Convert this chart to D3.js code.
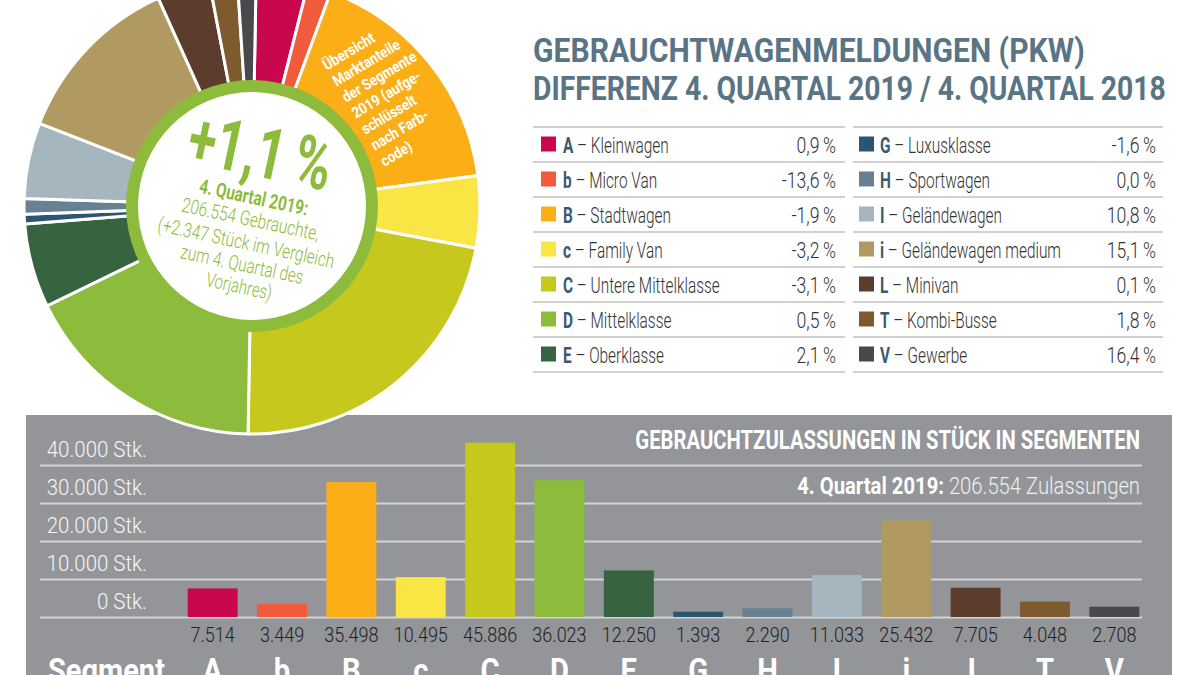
<!DOCTYPE html>
<html><head><meta charset="utf-8">
<script src="https://cdn.jsdelivr.net/npm/d3@7"></script>
<style>
html,body{margin:0;padding:0;background:#fff;}
svg{display:block;}
text{white-space:pre;}
</style></head><body>
<svg id="chart" width="1200" height="675"></svg>
<script>
// ---------- data ----------
const segments = ["A","b","B","c","C","D","E","G","H","I","i","L","T","V"];
const segmentNames = ["Kleinwagen","Micro Van","Stadtwagen","Family Van","Untere Mittelklasse","Mittelklasse","Oberklasse",
  "Luxusklasse","Sportwagen","Geländewagen","Geländewagen medium","Minivan","Kombi-Busse","Gewerbe"];
const units2019 = [7514,3449,35498,10495,45886,36023,12250,1393,2290,11033,25432,7705,4048,2708];
const changePct = [0.9,-13.6,-1.9,-3.2,-3.1,0.5,2.1,-1.6,0.0,10.8,15.1,0.1,1.8,16.4];
const yTickValues = [0,10000,20000,30000,40000];
const totalUnits = 206554;
const totalDiff = 2347;
const totalChangePct = 1.1;
const noteLines = ["Übersicht","Marktanteile","der Segmente","2019 (aufge-","schlüsselt","nach Farb-","code)"];

// ---------- styles ----------
const colors = ["#c8074f","#f15a3b","#fcae17","#f9e645","#c6c81d","#8dbb3b","#376440",
  "#2c5571","#678092","#a6b6be","#b09a62","#5c3c2d","#7d5b2f","#48494b"];
const GREEN = "#8dbb3b", SLATE = "#3b5a70", TITLE = "#597484";
const FONT = "Roboto, 'Liberation Sans', sans-serif";

const de = d3.formatLocale({decimal:",", thousands:".", grouping:[3], currency:["","\u00a0€"], minus:"-"});
const fInt = de.format(",d");
const fPct = de.format(".1f");

const svg = d3.select("#chart");

function addText(parent, x, y, parts, o = {}) {
  const t = parent.append("text")
    .attr("font-family", FONT)
    .attr("font-size", o.size || 20)
    .attr("font-weight", o.weight || 400)
    .attr("fill", o.fill || "#000")
    .attr("text-anchor", o.anchor || "start");
  (Array.isArray(parts) ? parts : [{t: parts}]).forEach(p => {
    const s = t.append("tspan").text(p.t);
    if (p.weight) s.attr("font-weight", p.weight);
    if (p.fill) s.attr("fill", p.fill);
  });
  let sx = o.sx || 1;
  if (o.width) sx = o.width / t.node().getComputedTextLength();
  t.attr("transform", `translate(${x},${y}) scale(${sx},1)`);
  return t;
}

// ---------- grey panel ----------
svg.append("rect").attr("x", 26).attr("y", 415).attr("width", 1146).attr("height", 260).attr("fill", "#939598");

// ---------- bar chart ----------
const x = d3.scaleBand().domain(segments).range([178, 1149]).paddingInner(0.28).paddingOuter(0.14);
const y = d3.scaleLinear().domain([0, 40000]).range([617, 465]);

const grid = svg.append("g").attr("transform", "translate(40,0)")
  .call(d3.axisRight(y).tickValues(yTickValues).tickSize(1102).tickFormat(""));
grid.select(".domain").remove();
grid.selectAll(".tick line").attr("stroke", "#d3d4d6").attr("stroke-width", 2);

svg.append("g").selectAll("rect").data(units2019).join("rect")
  .attr("x", (d, i) => x(segments[i]))
  .attr("y", d => y(d))
  .attr("width", x.bandwidth())
  .attr("height", d => y(0) - y(d))
  .attr("fill", (d, i) => colors[i]);

const yl = svg.append("g");
yTickValues.forEach(v => addText(yl, 147, y(v) - 8, fInt(v) + " Stk.", {size: 22, weight: 300, fill: "#f6f6f6", anchor: "end", sx: 0.93}));

const vl = svg.append("g");
units2019.forEach((v, i) => addText(vl, x(segments[i]) + x.bandwidth() / 2, 642, fInt(v), {size: 20, weight: 300, fill: "#1f1f1f", anchor: "middle", sx: 0.9}));

const sl = svg.append("g");
addText(sl, 48, 682, "Segment", {size: 34, weight: 700, fill: "#fff", width: 117});
segments.forEach(s => addText(sl, x(s) + x.bandwidth() / 2, 682, s, {size: 34, weight: 700, fill: "#fff", anchor: "middle", sx: 0.86}));

addText(svg, 1140, 449, "GEBRAUCHTZULASSUNGEN IN STÜCK IN SEGMENTEN", {size: 25, weight: 700, fill: "#fff", anchor: "end", width: 505});
addText(svg, 1140, 494, [{t: "4. Quartal 2019:", weight: 700}, {t: " " + fInt(totalUnits) + " Zulassungen", weight: 300, fill: "#f0f0f0"}],
  {size: 24, fill: "#fff", anchor: "end", width: 343});

// ---------- donut ----------
const cx = 252, cy = 206, R = 228;
const donut = svg.append("g").attr("transform", `translate(${cx},${cy})`);
const off = 0.018;
const pie = d3.pie().sort(null).value(d => d).startAngle(off).endAngle(off + 2 * Math.PI);
const arc = d3.arc().innerRadius(110).outerRadius(R);
donut.selectAll("path").data(pie(units2019)).join("path")
  .attr("d", arc)
  .attr("fill", (d, i) => colors[i])
  .attr("stroke", "#fff").attr("stroke-width", 3).attr("stroke-linejoin", "round");
donut.append("circle").attr("r", 126).attr("fill", GREEN);
donut.append("circle").attr("r", 114).attr("fill", "#fff");

// note on orange slice
const note = svg.append("g").attr("transform", "translate(324,66) rotate(-31)");
noteLines.forEach((l, i) => addText(note, 0, i * 18.7 + 5.5, l, {size: 15.5, weight: 700, fill: "#fff", sx: 0.86}));

// centre text
const ct = svg.append("g").attr("transform", `translate(${cx},${cy}) rotate(12)`);
addText(ct, -3, -30, (totalChangePct > 0 ? "+" : "") + fPct(totalChangePct) + "\u2009%", {size: 72, weight: 700, fill: GREEN, anchor: "middle", width: 145});
addText(ct, 0, -2, "4. Quartal 2019:", {size: 20, weight: 700, fill: GREEN, anchor: "middle", width: 111});
addText(ct, 1.5, 20, fInt(totalUnits) + " Gebrauchte,", {size: 20, weight: 300, fill: GREEN, anchor: "middle", width: 140});
addText(ct, 2, 44, "(+" + fInt(totalDiff) + " Stück im Vergleich", {size: 20, weight: 300, fill: GREEN, anchor: "middle", width: 180});
addText(ct, 2.5, 66, "zum 4. Quartal des", {size: 20, weight: 300, fill: GREEN, anchor: "middle", width: 125});
addText(ct, 4, 88, "Vorjahres)", {size: 20, weight: 300, fill: GREEN, anchor: "middle", width: 67});

// ---------- title ----------
addText(svg, 533, 62, "GEBRAUCHTWAGENMELDUNGEN (PKW)", {size: 34, weight: 700, fill: TITLE, width: 552});
addText(svg, 533, 100, "DIFFERENZ 4. QUARTAL 2019 / 4. QUARTAL 2018", {size: 34, weight: 700, fill: TITLE, width: 633});

// ---------- table ----------
const table = svg.append("g");
const cols = [{x0: 533, x1: 845, sq: 541, tx: 563, vx: 836}, {x0: 853, x1: 1163, sq: 859, tx: 880, vx: 1156}];
cols.forEach(c => {
  for (let k = 0; k <= 7; k++) {
    table.append("line").attr("x1", c.x0).attr("x2", c.x1).attr("y1", 127 + k * 35).attr("y2", 127 + k * 35)
      .attr("stroke", "#d2d2d2").attr("stroke-width", 2);
  }
});
segments.forEach((s, i) => {
  const c = cols[i < 7 ? 0 : 1];
  const yc = 144.5 + (i % 7) * 35;
  table.append("rect").attr("x", c.sq).attr("y", yc - 8).attr("width", 15).attr("height", 15).attr("fill", colors[i]);
  addText(table, c.tx, yc + 8, [{t: s, weight: 700, fill: SLATE}, {t: " \u2013 " + segmentNames[i], weight: 300, fill: "#333"}],
    {size: 22, sx: 0.7});
  addText(table, c.vx, yc + 8, fPct(changePct[i]) + "\u2009%", {size: 22, weight: 300, fill: "#333", anchor: "end", sx: 0.8});
});
</script>
</body></html>
